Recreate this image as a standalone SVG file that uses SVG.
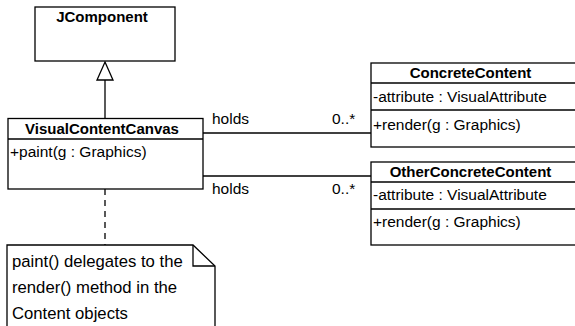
<svg xmlns="http://www.w3.org/2000/svg" width="575" height="326" viewBox="0 0 575 326">
<style>
.box{fill:#fff;stroke:#000;stroke-width:1.3}
.ln{stroke:#000;stroke-width:1.3;fill:none}
.t{font-family:"Liberation Sans",Arial,sans-serif;font-size:15.5px;fill:#000}
.b{font-weight:bold;font-size:15px;text-anchor:middle}
.n{font-family:"Liberation Sans",Arial,sans-serif;font-size:16.7px;fill:#000}
</style>
<rect width="575" height="326" fill="#fff"/>
<g id="connectors">
<line class="ln" x1="105" y1="80" x2="105" y2="118.5"/>
<polygon class="box" points="105,62 113,80 97,80"/>
<line class="ln" x1="203" y1="133" x2="371" y2="133"/>
<line class="ln" x1="203" y1="176" x2="371" y2="176"/>
<line class="ln" x1="105" y1="189" x2="105" y2="245" stroke-dasharray="6,5"/>
<text class="t" x="212" y="124">holds</text>
<text class="t" x="332" y="124">0..*</text>
<text class="t" x="212" y="194">holds</text>
<text class="t" x="332" y="194">0..*</text>
</g>
<g id="JComponent">
<rect class="box" x="35" y="7" width="140" height="54"/>
<text class="t b" x="102" y="22">JComponent</text>
</g>
<g id="VisualContentCanvas">
<rect class="box" x="8" y="118.5" width="195" height="70.5"/>
<line class="ln" x1="8" y1="139" x2="203" y2="139"/>
<text class="t b" x="102" y="134">VisualContentCanvas</text>
<text class="t" x="10" y="157">+paint(g : Graphics)</text>
</g>
<g id="ConcreteContent">
<rect class="box" x="371" y="63" width="215" height="84"/>
<line class="ln" x1="371" y1="83" x2="586" y2="83"/>
<line class="ln" x1="371" y1="110" x2="586" y2="110"/>
<text class="t b" x="470.5" y="78">ConcreteContent</text>
<text class="t" x="373" y="102">-attribute : VisualAttribute</text>
<text class="t" x="373" y="130">+render(g : Graphics)</text>
</g>
<g id="OtherConcreteContent">
<rect class="box" x="371" y="162" width="215" height="83"/>
<line class="ln" x1="371" y1="182" x2="586" y2="182"/>
<line class="ln" x1="371" y1="209" x2="586" y2="209"/>
<text class="t b" x="470.5" y="177">OtherConcreteContent</text>
<text class="t" x="373" y="200">-attribute : VisualAttribute</text>
<text class="t" x="373" y="227">+render(g : Graphics)</text>
</g>
<g id="note">
<path class="box" d="M7,340 V245 H193 L215,266 V340"/>
<path class="ln" d="M193,245 V266 H215"/>
<text class="n" x="12" y="267">paint() delegates to the</text>
<text class="n" x="12" y="293">render() method in the</text>
<text class="n" x="12" y="319">Content objects</text>
</g>
</svg>
